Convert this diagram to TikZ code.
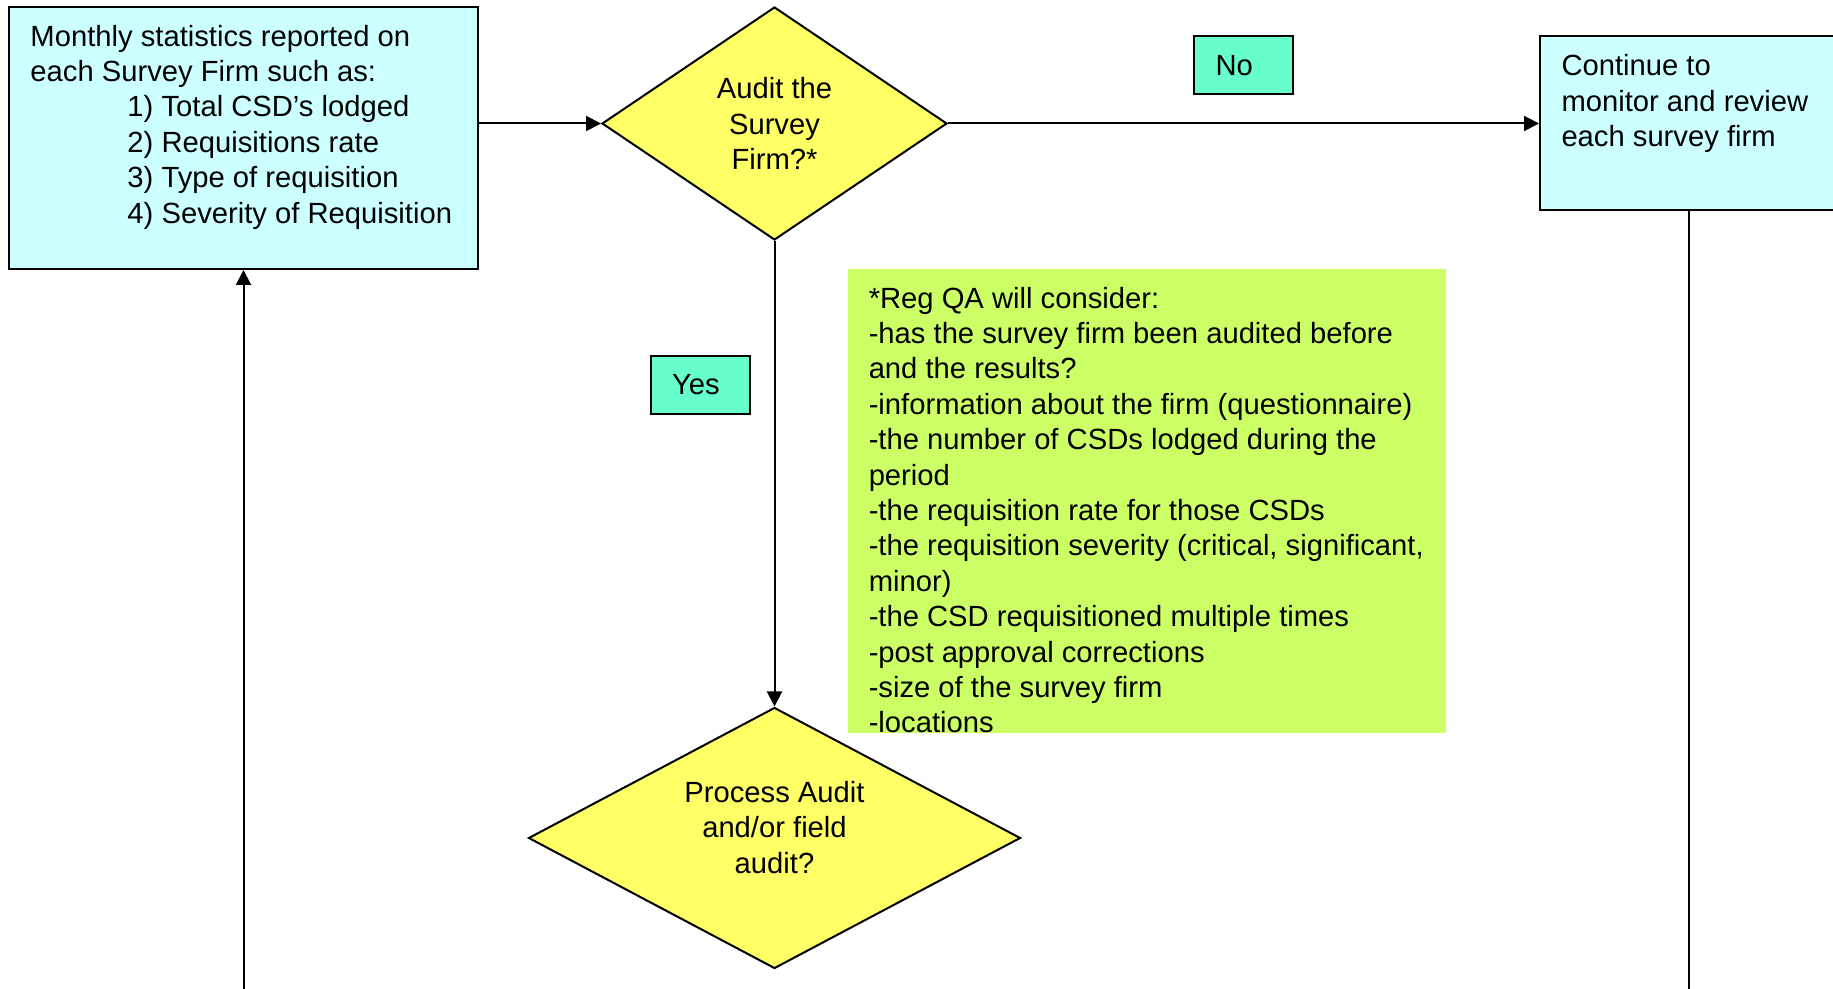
\documentclass[tikz,border=0pt]{standalone}
\usepackage{fontspec}
\setmainfont{Liberation Sans}
\usetikzlibrary{shapes.geometric, arrows.meta, positioning}
\definecolor{qaCyan}{RGB}{204, 255, 255}
\definecolor{qaYellow}{RGB}{255, 255, 102}
\definecolor{qaMint}{RGB}{102, 255, 204}
\definecolor{qaLime}{RGB}{204, 255, 102}

\begin{document}
\begin{tikzpicture}[
    x=0.5pt, y=-0.5pt,
    font=\fontsize{14.6pt}{17.7pt}\selectfont,
    line width=1pt,
    procbox/.style={
        rectangle,
        draw=black,
        fill=qaCyan,
        inner xsep=10.75pt,
        inner ysep=9pt
    },
    decision/.style n args={2}{
        diamond,
        draw=black,
        fill=qaYellow,
        aspect=2,
        inner sep=0pt,
        align=center,
        minimum width=#1,
        minimum height=#2
    },
    answer/.style={
        rectangle,
        draw=black,
        fill=qaMint,
        text width=28pt,
        inner xsep=10.75pt,
        minimum height=29pt,
        align=left
    },
    note/.style={
        rectangle,
        fill=qaLime,
        inner xsep=10.5pt,
        inner ysep=9pt
    },
    flow/.style={-{Triangle[length=7.5pt,width=7.5pt]}}
]
    \useasboundingbox (0,0) rectangle (1833,989);
    \coordinate (pagebottom) at (0,992);

    % Statistics box
    \node[procbox] (stats) at (243.5,138) {\parbox[c][113pt][t]{213pt}{\raggedright
        Monthly statistics reported on\\
        each Survey Firm such as:\\
        \hspace*{48.5pt}1) Total CSD’s lodged\\
        \hspace*{48.5pt}2) Requisitions rate\\
        \hspace*{48.5pt}3) Type of requisition\\
        \hspace*{48.5pt}4) Severity of Requisition}};

    % Decisions
    \node[decision={172.5pt}{116.5pt}] (auditq) at (774.5,123.5) {Audit the\\Survey\\Firm?*};
    \node[decision={246pt}{130.5pt}, below=232.75pt of auditq] (procq)
        {\raisebox{0pt}[0pt][0pt]{\begin{tabular}{@{}c@{}}Process Audit\\and/or field\\audit?\end{tabular}}};

    % Monitoring box
    \node[procbox, right=295.5pt of auditq] (cont) {\parbox[c][69pt][t]{127.5pt}{\raggedright
        Continue to\\
        monitor and review\\
        each survey firm}};

    % Answers
    \node[answer] (no) at (1243.5,65.5) {No};
    \node[answer] (yes) at (700,385) {Yes};

    % Criteria note
    \node[note] (criteria) at (1146.75,501) {\parbox[c][214pt][t]{278pt}{\raggedright
        *Reg QA will consider:\\
        -has the survey firm been audited before\\
        and the results?\\
        -information about the firm (questionnaire)\\
        -the number of CSDs lodged during the\\
        period\\
        -the requisition rate for those CSDs\\
        \mbox{-the requisition severity (critical, significant,}\\
        minor)\\
        -the CSD requisitioned multiple times\\
        -post approval corrections\\
        -size of the survey firm\\
        -locations}};

    % Connections
    \draw[flow] (stats.east |- auditq.west) -- (auditq.west);
    \draw[flow] (auditq.east) -- (cont.west);
    \draw[flow] (auditq.south) -- (procq.north);
    \draw (cont.south) -- (cont.south |- pagebottom);
    \draw[flow] (stats.south |- pagebottom) -- (stats.south);

\end{tikzpicture}
\end{document}
